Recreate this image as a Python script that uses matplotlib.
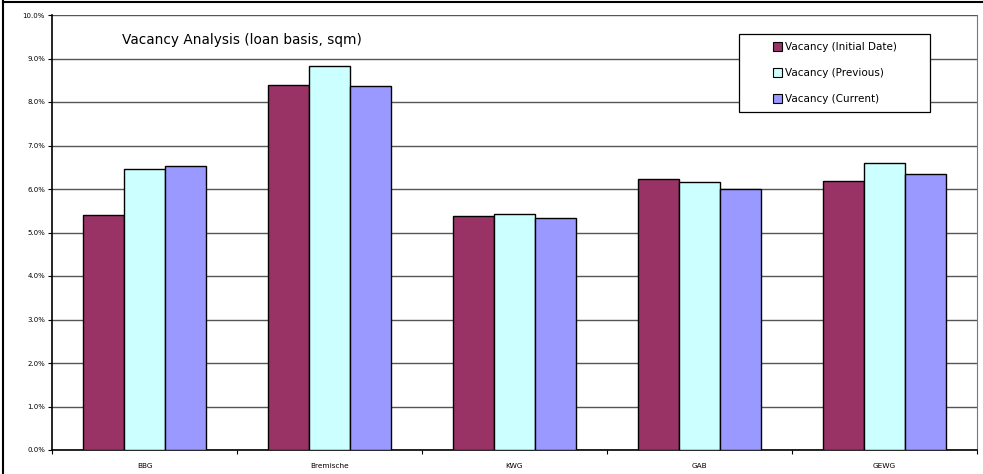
import matplotlib
matplotlib.use("Agg")
import matplotlib.pyplot as plt
import numpy as np
from matplotlib.lines import Line2D
from matplotlib.patches import Rectangle
from matplotlib.ticker import FuncFormatter, MultipleLocator

categories = ["BBG", "Bremische", "KWG", "GAB", "GEWG"]
series_names = ["Vacancy (Initial Date)", "Vacancy (Previous)", "Vacancy (Current)"]
initial_date = [5.40, 8.38, 5.38, 6.24, 6.19]
previous = [6.45, 8.82, 5.43, 6.16, 6.60]
current = [6.54, 8.36, 5.33, 6.01, 6.35]
colors = ["#993366", "#ccffff", "#9999ff"]

W, H = 983, 474
fig = plt.figure(figsize=(W / 100, H / 100), dpi=100)
ax = fig.add_axes([52 / W, 1 - 450 / H, (977 - 52) / W, (450 - 15) / H])

x = np.arange(len(categories))
bar_w = 0.222
for i, (vals, name) in enumerate(zip([initial_date, previous, current], series_names)):
    ax.bar(x + (i - 1) * bar_w, vals, width=bar_w, color=colors[i],
           edgecolor="black", linewidth=1.0, label=name, zorder=3)

ax.set_xlim(-0.5, len(categories) - 0.5)
ax.set_ylim(0, 10)
ax.yaxis.set_major_locator(MultipleLocator(1))
ax.yaxis.set_major_formatter(FuncFormatter(lambda v, _: f"{v:.1f}%"))
ax.grid(axis="y", color="#555555", linewidth=1.0, zorder=0)

ax.set_xticks(x)
ax.set_xticklabels(categories)
ax.set_xticks(np.arange(len(categories) + 1) - 0.5, minor=True)
ax.tick_params(axis="x", which="major", length=0, labelsize=5.3, pad=9)
ax.tick_params(axis="x", which="minor", length=3, width=0.8, direction="out")
ax.tick_params(axis="y", length=3, width=0.8, direction="out", labelsize=5.0, pad=2)

ax.spines["right"].set_color("#777777")
ax.spines["top"].set_visible(False)
for side in ["left", "bottom"]:
    ax.spines[side].set_color("black")
    ax.spines[side].set_linewidth(1.2)

ax.text(70 / 923, 1 - 25 / 435, "Vacancy Analysis (loan basis, sqm)",
        transform=ax.transAxes, fontsize=9.8, va="center", ha="left")

# legend box drawn separately so the padding matches the wide frame
box_x0, box_y0 = (738 - 52) / 923, 1 - (112 - 15) / 435
box_w, box_h = (928 - 738) / 923, (112 - 34) / 435
ax.add_patch(Rectangle((box_x0, box_y0), box_w, box_h, transform=ax.transAxes,
                       facecolor="white", edgecolor="black", linewidth=0.9,
                       zorder=5, clip_on=False))
leg = ax.legend(loc="center", bbox_to_anchor=(box_x0, box_y0, box_w, box_h),
                fontsize=7.5, frameon=False, handlelength=0.9,
                handleheight=0.9, handletextpad=0.3, labelspacing=1.55,
                borderpad=0, borderaxespad=0)
leg.set_zorder(6)
for h in leg.legend_handles:
    h.set_linewidth(0.8)

fig.add_artist(Line2D([3 / W, 3 / W], [0, 1 - 1 / H], color="black", linewidth=1.5))
fig.add_artist(Line2D([3 / W, 1], [1 - 1.5 / H, 1 - 1.5 / H], color="black", linewidth=1.5))

fig.savefig("out.png", dpi=100)
